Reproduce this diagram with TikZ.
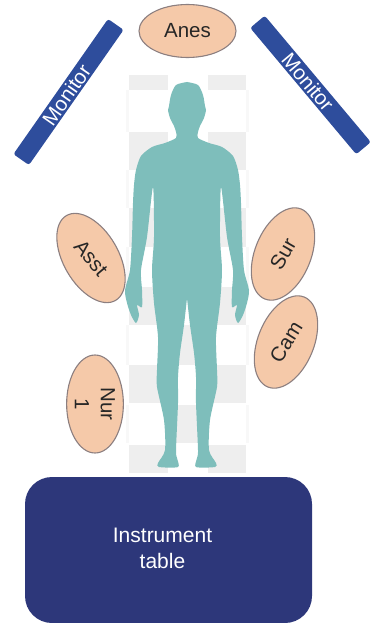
\documentclass[tikz,border=0pt]{standalone}
\usepackage{fontspec}
\setmainfont{Liberation Sans}
\usepackage{xcolor}
\usepackage{tikz}
\usetikzlibrary{shapes.geometric}
\definecolor{tilegrey}{HTML}{EEEEEE}
\definecolor{tilefaint}{HTML}{F8F8F8}
\definecolor{bodyteal}{HTML}{7EBEBB}
\definecolor{skinfill}{HTML}{F5C9A9}
\definecolor{skinedge}{HTML}{8C7F80}
\definecolor{monitorblue}{HTML}{2E4D9C}
\definecolor{tablenavy}{HTML}{2D377A}
\tikzset{
  staff/.style={ellipse, draw=skinedge, line width=1.1pt, fill=skinfill, inner sep=0pt, text=black!85, font=\fontsize{20.5}{26}\selectfont},
  monitorbar/.style={rectangle, fill=monitorblue, rounded corners=2.5pt, minimum width=165pt, minimum height=19pt, inner sep=0pt, text=white, font=\fontsize{20.5}{24}\selectfont},
  tablebox/.style={rectangle, fill=tablenavy, rounded corners=27pt, minimum width=287pt, minimum height=146pt, inner sep=0pt, text=white, font=\fontsize{21}{26}\selectfont},
}
\newcommand{\bodyhalf}{%
  \fill[bodyteal] plot[smooth, tension=0.45] coordinates {
    (0,82) (-11,85) (-16,95) (-18,106) (-19,110) (-17,118) (-13,126) (-11,132) (-11,138)
    (-22,143) (-35,147) (-46,156) (-51,170) (-53,185) (-54,203) (-55,237) (-57,270)
    (-62,290) (-60,303) (-56,315) (-51,323) (-48,315) (-50,305) (-45,307) (-45,290) (-46,270) (-40,237)
    (-34,187) (-33,237) (-35,270) (-33,303) (-29,337) (-30,370) (-30,387) (-23,420)
    (-22,450) (-29,463) (-28,467) (-9,467) (-10,458) (-11,450) (-9,403) (-9,377) (-7,353)
    (-3,325) (0,298)
  } -- cycle;}
% One row of the checker, outer columns
\newcommand{\siderow}[3]{%
  \fill[#1] (\cola,#2) rectangle (\colb,#3);
  \fill[#1] (\colc,#2) rectangle (\cold,#3);}
\newcommand{\edgerow}[2]{%
  \fill[tilefaint] (125.5,#1) rectangle (\cola,#2);
  \fill[tilefaint] (\cold,#1) rectangle (249,#2);}
\begin{document}
\begin{tikzpicture}[x=1pt, y=-1pt]
\useasboundingbox (0,0) rectangle (370,623);

% Column positions of the checker
\def\cola{129}
\def\colb{168}
\def\colc{208}
\def\cold{246}

% Checker tiles, outer columns
\siderow{tilegrey}{75}{90}
\siderow{tilegrey}{132}{170}
\siderow{tilegrey}{208}{247}
\siderow{tilegrey}{287}{325}
\siderow{tilegrey}{365}{403}
\siderow{tilegrey}{445}{473}

% Faint edges of the white rows
\edgerow{90}{132}
\edgerow{170}{208}
\edgerow{247}{287}
\edgerow{325}{365}
\edgerow{405}{443}

% Checker tiles, middle column
\fill[tilegrey] (\colb,325) rectangle (\colc,365);
\fill[tilegrey] (\colb,405) rectangle (\colc,443);

% Patient (two mirrored halves)
\begin{scope}[xshift=187pt]
\bodyhalf
\end{scope}
\begin{scope}[xshift=187pt, xscale=-1]
\bodyhalf
\end{scope}

% Monitors
\node[monitorbar, rotate=55] (monitorl) at (68.5,92) {Monitor\kern7pt};
\node[monitorbar, rotate=-50] (monitorr) at (310.5,85) {Monitor\kern8pt};

% Staff
\node[staff, minimum width=97pt, minimum height=53pt] (anes) at (187.5,31) {Anes};
\node[staff, minimum width=98pt, minimum height=55pt, rotate=-60] (asst) at (91,258) {\rotatebox{10}{Asst}};
\node[staff, minimum width=97pt, minimum height=56pt, rotate=68] (sur) at (283,254) {\rotatebox{-8}{Sur}};
\node[staff, minimum width=97pt, minimum height=56pt, rotate=68] (cam) at (286,342) {\rotatebox{-10}{Cam}};
\node[staff, minimum width=98pt, minimum height=54pt, rotate=-90, align=center] (nur) at (95,404) {Nur\\1};

% Instrument table
\node[tablebox] (table) at (168.5,550) {\begin{tabular}{@{}c@{}}\rule{0pt}{16pt}Instrument\\table\end{tabular}\kern12pt};
\end{tikzpicture}
\end{document}
